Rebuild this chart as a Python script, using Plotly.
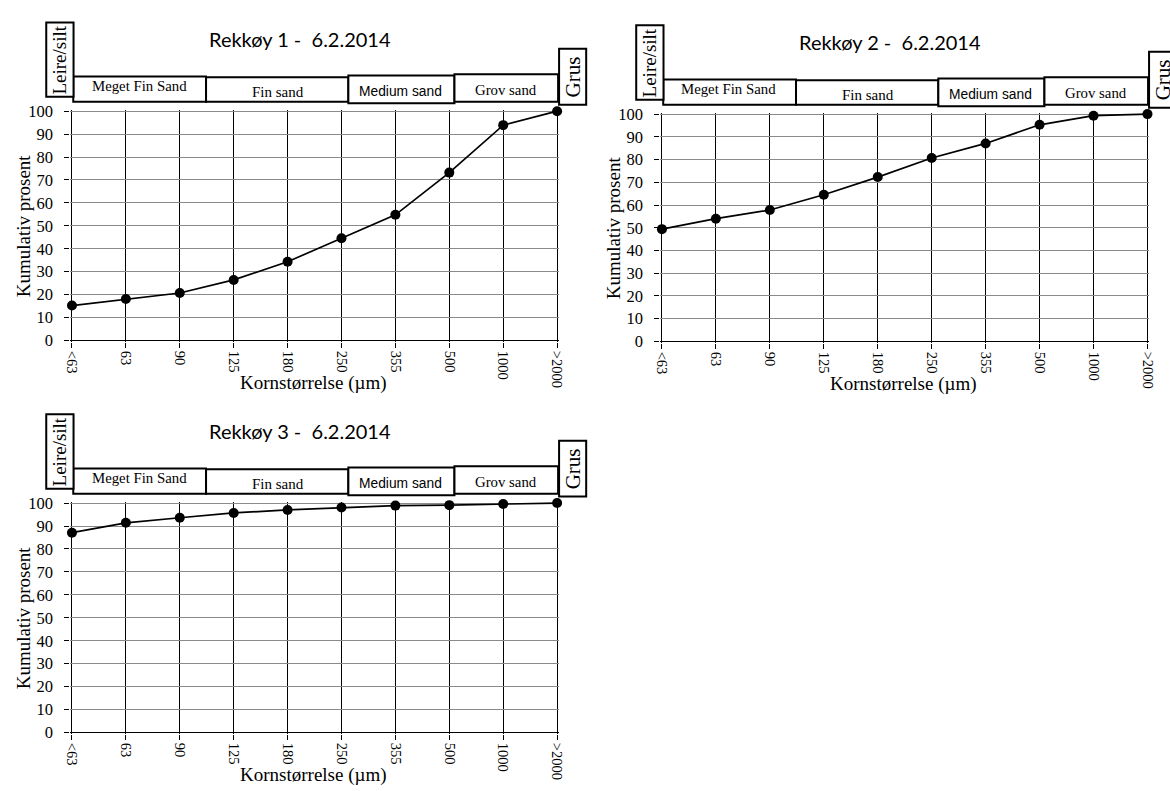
import plotly.graph_objects as go

W, H = 1170, 791

# Grain-size classes (µm) along the x axis
categories = ["<63", "63", "90", "125", "180", "250", "355", "500", "1000", ">2000"]

# Cumulative percentage per station
rekkoy1 = [15.2, 18.1, 20.7, 26.4, 34.3, 44.6, 54.8, 73.2, 93.9, 100]
rekkoy2 = [49.4, 54.0, 57.8, 64.5, 72.3, 80.7, 87.1, 95.3, 99.3, 100]
rekkoy3 = [87.1, 91.4, 93.6, 95.7, 97.0, 98.1, 98.9, 99.1, 99.6, 100]

titles = ["Rekkøy 1 -\u00a0 6.2.2014", "Rekkøy 2 -\u00a0 6.2.2014", "Rekkøy 3 -\u00a0 6.2.2014"]
y_tickvals = list(range(0, 101, 10))

fraction_labels = ["Meget Fin Sand", "Fin sand", "Medium sand", "Grov sand"]
fraction_fonts = ["Liberation Serif", "Liberation Serif", "Liberation Sans", "Liberation Serif"]
fraction_sizes = [14.8, 15, 13.8, 14.8]
# box extents relative to the plot's top-left corner (px): x0, x1, y0, y1
fraction_boxes = [(1.3, 135.6, -35.3, -9.6), (135.6, 279.5, -34.6, -9.6),
                  (279.5, 386.8, -36.3, -8.0), (386.8, 491.6, -37.6, -9.6)]
fraction_text_pos = [(67.8, -25.3), (208.5, -19.3), (332.3, -20.3), (438.8, -21.3)]
silt_box = (-26.0, 1.6, -90.6, -14.6)
grus_box = (492.6, 520.0, -63.6, -6.6)

# Plot frames in pixels: left (<63), right (>2000), top (100 %), bottom (0 %)
panels = [
    dict(left=66.7, right=557.3, top=105.3, bottom=339.3, data=rekkoy1),
    dict(left=663.3, right=1154.3, top=108.3, bottom=340.3, data=rekkoy2),
    dict(left=66.7, right=557.3, top=505.3, bottom=739.5, data=rekkoy3),
]

XPAD, YPAD = 0.03, 0.6  # keep edge gridlines inside the plotting area

def px(x):
    return x / W

def py(y):
    return 1 - y / H

fig = go.Figure()
shapes, annotations = [], []
serif = "Liberation Serif"

for i, p in enumerate(panels, start=1):
    L, R, T, B = p["left"], p["right"], p["top"], p["bottom"]
    dxp = XPAD * (R - L) / 9
    dyp = YPAD * (B - T) / 100
    xa = "x" if i == 1 else f"x{i}"
    ya = "y" if i == 1 else f"y{i}"

    fig.add_trace(go.Scatter(
        x=categories, y=p["data"], xaxis=xa, yaxis=ya,
        mode="lines+markers", cliponaxis=False, showlegend=False,
        line=dict(color="black", width=1.7),
        marker=dict(color="black", size=10),
    ))

    fig.update_layout({
        f"xaxis{'' if i == 1 else i}": dict(
            domain=[px(L - dxp), px(R + dxp)], anchor=ya, type="category",
            categoryorder="array", categoryarray=categories,
            range=[-XPAD, 9 + XPAD], showgrid=True, gridcolor="black", gridwidth=1,
            showline=False, zeroline=False, ticks="outside", ticklen=5,
            tickcolor="black", tickwidth=1, tickangle=90,
            tickfont=dict(family=serif, size=14.5, color="black"), fixedrange=True,
        ),
        f"yaxis{'' if i == 1 else i}": dict(
            domain=[py(B + dyp), py(T - dyp)], anchor=xa,
            range=[-YPAD, 100 + YPAD], tickvals=y_tickvals, showgrid=True,
            gridcolor="#8a8a8a", gridwidth=1, showline=False,
            zeroline=True, zerolinecolor="black", zerolinewidth=1,
            ticks="outside", ticklen=5, tickcolor="black", tickwidth=1,
            ticklabelstandoff=8,
            tickfont=dict(family=serif, size=16.5, color="black"), fixedrange=True,
        ),
    })

    # chart title
    annotations.append(dict(x=px(L + 230.5), y=py(T - 74), xref="paper", yref="paper",
                            text=titles[i - 1], showarrow=False, xanchor="center", yanchor="middle",
                            font=dict(family="Lato", size=20, color="black")))
    # axis titles
    annotations.append(dict(x=px(L - 49), y=py((T + B) / 2), xref="paper", yref="paper",
                            text="Kumulativ prosent", showarrow=False, textangle=-90,
                            xanchor="center", yanchor="middle",
                            font=dict(family=serif, size=19, color="black")))
    annotations.append(dict(x=px(L + 244), y=py(B + 43), xref="paper", yref="paper",
                            text="Kornstørrelse (µm)", showarrow=False,
                            xanchor="center", yanchor="middle",
                            font=dict(family=serif, size=19, color="black")))

    # grain-size class boxes above the plot
    for (x0, x1, y0, y1), lab, fam, fs, (tx, ty) in zip(
            fraction_boxes, fraction_labels, fraction_fonts, fraction_sizes, fraction_text_pos):
        shapes.append(dict(type="rect", xref="paper", yref="paper",
                           x0=px(L + x0), x1=px(L + x1), y0=py(T + y1), y1=py(T + y0),
                           line=dict(color="black", width=2), fillcolor="white"))
        annotations.append(dict(x=px(L + tx), y=py(T + ty), xref="paper", yref="paper",
                                text=lab, showarrow=False, xanchor="center", yanchor="middle",
                                font=dict(family=fam, size=fs, color="black")))

    for (x0, x1, y0, y1), lab, fs in [(silt_box, "Leire/silt", 19), (grus_box, "Grus", 21)]:
        shapes.append(dict(type="rect", xref="paper", yref="paper",
                           x0=px(L + x0), x1=px(L + x1), y0=py(T + y1), y1=py(T + y0),
                           line=dict(color="black", width=2), fillcolor="white"))
        annotations.append(dict(x=px(L + (x0 + x1) / 2), y=py(T + (y0 + y1) / 2),
                                xref="paper", yref="paper", text=lab, showarrow=False,
                                textangle=-90, xanchor="center", yanchor="middle",
                                font=dict(family=serif, size=fs, color="black")))

fig.update_layout(
    width=W, height=H, margin=dict(l=0, r=0, t=0, b=0),
    paper_bgcolor="white", plot_bgcolor="white",
    shapes=shapes, annotations=annotations, showlegend=False,
)

fig.write_html("out.html", config={"displayModeBar": False})
